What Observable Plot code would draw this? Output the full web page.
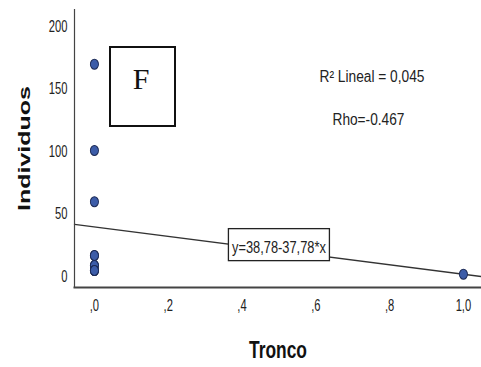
<!DOCTYPE html>
<html>
<head>
<meta charset="utf-8">
<script src="https://cdn.jsdelivr.net/npm/d3@7"></script>
<script src="https://cdn.jsdelivr.net/npm/@observablehq/plot@0.6"></script>
<style>
  html, body { margin: 0; padding: 0; background: white; }
</style>
</head>
<body>
<div id="chart"></div>
<script>
// ---- data ----
const troncoX = [0, 0, 0, 0, 0, 0, 0, 0, 0, 0, 1];
const individuosY = [169, 100, 59, 16, 16, 8, 8, 4, 4, 4, 1];
const xTicks = [0, 0.2, 0.4, 0.6, 0.8, 1.0];
const xTickLabels = [",0", ",2", ",4", ",6", ",8", "1,0"];
const yTicks = [0, 50, 100, 150, 200];
const intercept = 38.78;
const slope = -37.78;
const eqLabel = "y=38,78-37,78*x";
const r2Label = "R\u00B2 Lineal = 0,045";
const rhoLabel = "Rho=-0.467";
const panelLabel = "F";

const points = troncoX.map((x, i) => ({x, y: individuosY[i]}));
const xDomain = [-0.054, 1.049];
const yDomain = [-9.6, 212.8];
const regLine = xDomain.map(x => ({x, y: intercept + slope * x}));
const eqX = 0.5;

const FONT = "'Liberation Sans', Arial, sans-serif";

const plot = Plot.plot({
  width: 481,
  height: 367,
  marginLeft: 74,
  marginRight: 0,
  marginTop: 9,
  marginBottom: 80,
  style: {fontFamily: FONT, fontSize: "16px", background: "white", color: "#222"},
  x: {domain: xDomain},
  y: {domain: yDomain},
  marks: [
    Plot.axisY({ticks: yTicks, tickSize: 0, tickPadding: 7, label: null, fontSize: 16, fill: "#222", dy: 1}),
    Plot.axisX({ticks: xTicks, tickSize: 0, tickPadding: 12, label: null, fontSize: 16, fill: "#222",
      tickFormat: d => xTickLabels[xTicks.findIndex(t => Math.abs(t - d) < 1e-9)]}),
    Plot.line(regLine, {x: "x", y: "y", stroke: "#333", strokeWidth: 1.3}),
    Plot.frame({anchor: "left", stroke: "#444", strokeWidth: 1.2}),
    Plot.frame({anchor: "bottom", stroke: "#444", strokeWidth: 2}),
    Plot.dot(points, {x: "x", y: "y", r: 4.5, fill: "#3c5ca8", stroke: "#1c2a55", strokeWidth: 1}),
    Plot.text([eqLabel], {x: eqX, y: intercept + slope * eqX, dy: -3, text: d => d, fontSize: 16, fill: "#222", className: "eq"}),
    Plot.text([r2Label], {frameAnchor: "top-left", dx: 245, dy: 61, text: d => d, textAnchor: "start", fontSize: 16, fill: "#222", className: "r2"}),
    Plot.text([rhoLabel], {frameAnchor: "top-left", dx: 258, dy: 104, text: d => d, textAnchor: "start", fontSize: 16, fill: "#222", className: "rho"}),
    Plot.text(["Individuos"], {frameAnchor: "left", dx: -50, rotate: -90, textAnchor: "middle", text: d => d, fontSize: 17, fontWeight: "bold", fill: "#111", className: "ylab"}),
    Plot.text(["Tronco"], {frameAnchor: "bottom", dy: 70, textAnchor: "middle", text: d => d, fontSize: 23, fontWeight: "bold", fill: "#111", className: "xlab"})
  ]
});

document.getElementById("chart").appendChild(plot);
const svg = d3.select(plot);

// target lengths for the stretched picture
const targets = {eq: 94, r2: 105, rho: 72, ylab: 125, xlab: 58};
svg.selectAll("text").each(function() {
  const len = this.getComputedTextLength();
  let s = 0.7;
  for (const k in targets) {
    if (this.closest("." + k)) s = targets[k] / len;
  }
  const t = this.getAttribute("transform") || "";
  this.setAttribute("transform", t + ` scale(${s},1)`);
});

// slightly taller-than-wide dots, as in the stretched picture
svg.selectAll("circle").each(function() {
  const c = d3.select(this);
  const cxv = +c.attr("cx"), cyv = +c.attr("cy");
  const t = this.getAttribute("transform") || "";
  if (!isNaN(cxv) && !isNaN(cyv)) {
    c.attr("transform", `${t} translate(${cxv},${cyv}) scale(0.9,1.1) translate(${-cxv},${-cyv})`);
  }
});

// white box behind equation label
const xs = plot.scale("x"), ys = plot.scale("y");
const cx = xs.apply(eqX), cy = ys.apply(intercept + slope * eqX) - 3;
svg.select(".eq").insert("rect", "text")
  .attr("x", cx - 50.5).attr("y", cy - 16).attr("width", 101).attr("height", 32)
  .attr("fill", "white").attr("stroke", "#222").attr("stroke-width", 1.3);

// panel letter box
const pg = svg.append("g");
pg.append("rect").attr("x", 110).attr("y", 47).attr("width", 65).attr("height", 79)
  .attr("fill", "white").attr("stroke", "#111").attr("stroke-width", 2);
pg.append("text").attr("x", 141).attr("y", 78).attr("text-anchor", "middle").attr("dominant-baseline", "central")
  .attr("font-family", "'Liberation Serif', 'DejaVu Serif', serif").attr("font-size", 30).attr("fill", "#111")
  .text(panelLabel);
</script>
</body>
</html>
